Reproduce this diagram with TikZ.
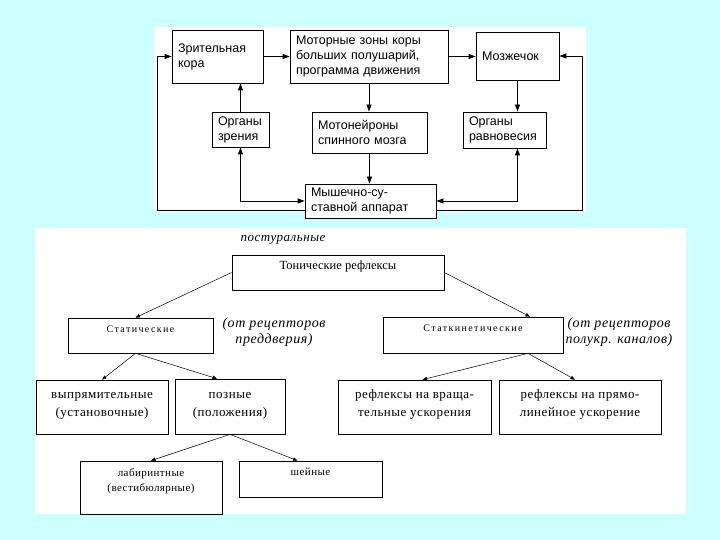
\documentclass[tikz,border=0pt]{standalone}
\usepackage{fontspec}
\setmainfont{Liberation Serif}
\newfontfamily\helv{Liberation Sans}
\newfontfamily\wideserif[LetterSpace=4]{Liberation Serif}
\newfontfamily\tinyserif[LetterSpace=14]{Liberation Serif}
\usetikzlibrary{arrows.meta}
\definecolor{slidebg}{RGB}{204,255,255}
\newcommand{\btext}[2]{\raisebox{#1}[0pt][0pt]{\begin{tabular}[c]{@{}c@{}}#2\end{tabular}}}
\tikzset{
  tbox/.style={
    draw,
    fill=white,
    line width=0.8pt,
    align=left,
    inner xsep=6pt,
    inner ysep=2pt,
    font=\helv\fontsize{12.5}{15}\selectfont
  },
  bbox/.style={draw, fill=white, line width=0.7pt, inner sep=0pt},
  tarr/.style={-{Triangle[length=7pt,width=5pt]}, line width=0.8pt},
  tarrs/.style={{Triangle[length=7pt,width=5pt]}-{Triangle[length=7pt,width=5pt]}, line width=0.8pt},
  barr/.style={-{Triangle[length=4.5pt,width=3.5pt]}, line width=0.5pt},
  note/.style={font=\wideserif\itshape\fontsize{14}{16}\selectfont, align=center, inner sep=0pt}
}

\begin{document}
\begin{tikzpicture}[x=1pt, y=-1pt]
  \path[use as bounding box, fill=slidebg] (0,0) rectangle (720,540);
  \fill[white] (154,27) rectangle (586,212);
  \fill[white] (35,228) rectangle (686,514);

  % upper scheme
  \node[tbox, text width=79pt, minimum height=53pt] (vis) at (217.5,56.5) {Зрительная\\кора};
  \node[tbox, text width=146pt, minimum height=53pt] (mot) at (369,56.5) {Моторные зоны коры\\больших полушарий,\\программа движения};
  \node[tbox, text width=71pt, minimum height=48pt] (cer) at (517.5,56) {Мозжечок};
  \node[tbox, text width=45pt, minimum height=35pt] (orgz) at (240.5,129.5) {Органы\\зрения};
  \node[tbox, text width=103pt, minimum height=41pt] (motn) at (369.5,132.5) {Мотонейроны\\спинного мозга};
  \node[tbox, text width=71pt, minimum height=36pt] (orgr) at (504.5,130) {Органы\\равновесия};
  \node[tbox, text width=119pt, minimum height=34pt] (mus) at (370.5,201) {Мышечно-су-\\ставной аппарат};

  \draw[tarr] (vis.east) -- (vis.east -| mot.west);
  \draw[tarr] (mot.east) -- (mot.east -| cer.west);
  \draw[tarr] (orgz.north) -- (orgz.north |- vis.south);
  \draw[tarr] (mot.south) -- (mot.south |- motn.north);
  \draw[tarr] (motn.south) -- (motn.south |- mus.north);
  \draw[tarr] (cer.south) -- (cer.south |- orgr.north);
  \draw[tarrs] (orgz.south) |- (mus.west);
  \draw[tarrs] (cer.south |- orgr.south) |- (mus.east);
  \draw[tarr] ([yshift=-9pt]mus.west) -| ([xshift=-14pt]vis.west) -- (vis.west);
  \draw[tarr] ([yshift=-9pt]mus.east) -| ([xshift=23pt]cer.east) -- (cer.east);

  % lower scheme
  \node[note, font=\wideserif\itshape\fontsize{13}{15}\selectfont] (post) at (283,240) {постуральные};
  \node[bbox, minimum width=212pt, minimum height=35pt, font=\fontsize{12.5}{15}\selectfont] (ton) at (338,272.5) {\btext{2.5pt}{Тонические рефлексы}};
  \node[bbox, minimum width=145pt, minimum height=35pt, font=\tinyserif\fontsize{10}{12}\selectfont] (stat) at (140.5,335.5) {\btext{3pt}{Статические}};
  \node[bbox, minimum width=180pt, minimum height=36pt, font=\tinyserif\fontsize{10}{12}\selectfont] (stkin) at (473,335) {\btext{3pt}{Статкинетические}};
  \node[note] (ntl) at (274,332) {(от рецепторов\\преддверия)};
  \node[note] (ntr) at (619,332) {(от рецепторов\\полукр. каналов)};

  \node[bbox, minimum width=132pt, minimum height=54pt, font=\wideserif\fontsize{13}{18}\selectfont] (vyp) at (102,407) {\btext{0pt}{выпрямительные\\(установочные)}};
  \node[bbox, minimum width=110pt, minimum height=55pt, font=\wideserif\fontsize{13}{18}\selectfont] (poz) at (230,406.5) {\btext{0pt}{позные\\(положения)}};
  \node[bbox, minimum width=153pt, minimum height=54pt, font=\wideserif\fontsize{13}{18}\selectfont] (vrash) at (414.5,407) {\btext{0pt}{рефлексы на враща-\\тельные ускорения}};
  \node[bbox, minimum width=162pt, minimum height=54pt, font=\wideserif\fontsize{13}{18}\selectfont] (pryam) at (580,407) {\btext{0pt}{рефлексы на прямо-\\линейное ускорение}};
  \node[bbox, minimum width=142pt, minimum height=53pt, font=\wideserif\fontsize{11}{15}\selectfont] (lab) at (151,487.5) {\btext{4pt}{лабиринтные\\(вестибюлярные)}};
  \node[bbox, minimum width=143pt, minimum height=36pt, font=\wideserif\fontsize{11}{15}\selectfont] (shei) at (310.5,479) {\btext{3.5pt}{шейные}};

  \draw[barr] (ton.west) -- ([xshift=-5pt]stat.north);
  \draw[barr] (ton.east) -- ([xshift=57pt]stkin.north);
  \draw[barr] ([xshift=-5pt]stat.south) -- (vyp.north);
  \draw[barr] ([xshift=-5pt]stat.south) -- ([xshift=-13pt]poz.north);
  \draw[barr] ([xshift=55pt]stkin.south) -- ([xshift=8pt]vrash.north);
  \draw[barr] ([xshift=55pt]stkin.south) -- ([xshift=-5pt]pryam.north);
  \draw[barr] (poz.south) -- (lab.north);
  \draw[barr] (poz.south) -- ([xshift=-13pt]shei.north);
\end{tikzpicture}
\end{document}
